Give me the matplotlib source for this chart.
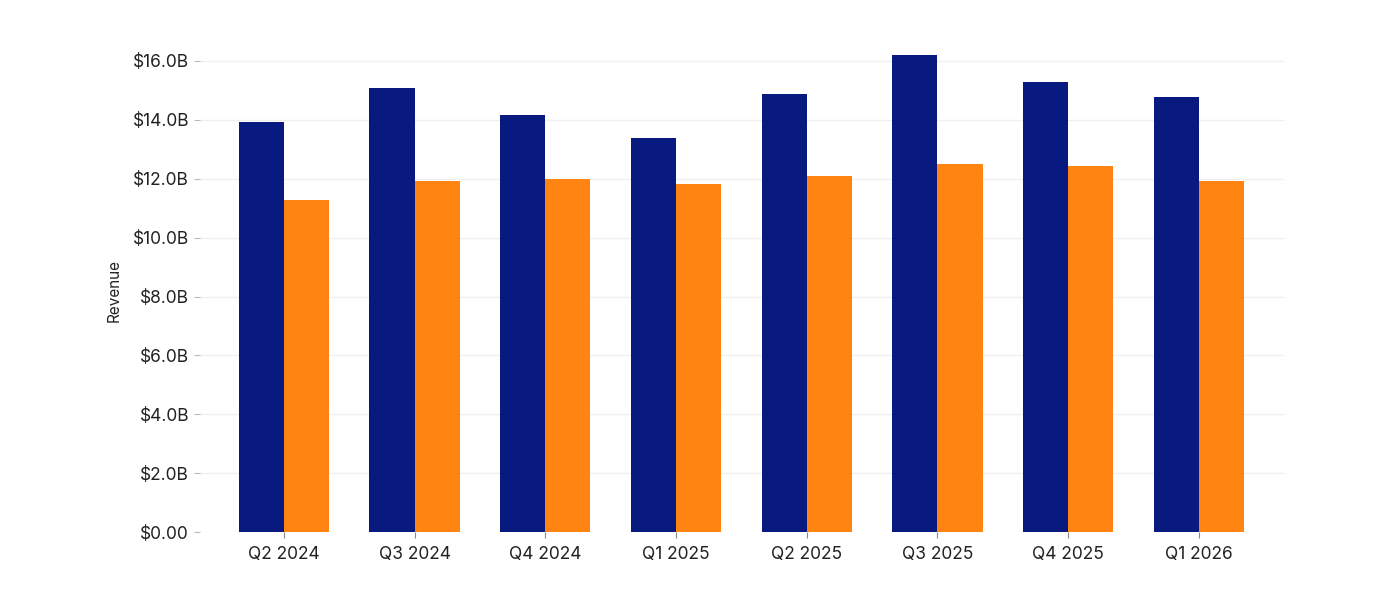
import numpy as np
import matplotlib
matplotlib.use("Agg")
import matplotlib.pyplot as plt

quarters = ["Q2 2024", "Q3 2024", "Q4 2024", "Q1 2025",
            "Q2 2025", "Q3 2025", "Q4 2025", "Q1 2026"]
series_a = [13.92, 15.08, 14.16, 13.38, 14.88, 16.20, 15.29, 14.77]
series_b = [11.27, 11.91, 11.98, 11.81, 12.09, 12.49, 12.43, 11.91]
y_ticks = [0, 2, 4, 6, 8, 10, 12, 14, 16]
y_labels = ["$0.00", "$2.0B", "$4.0B", "$6.0B", "$8.0B",
            "$10.0B", "$12.0B", "$14.0B", "$16.0B"]

plt.rcParams["font.family"] = ["Inter", "DejaVu Sans"]

fig = plt.figure(figsize=(14, 6), dpi=100)
ax = fig.add_axes([0.143, 0.113, 0.774, 0.805])

x = np.arange(len(quarters))
w = 0.345
ax.bar(x - w / 2, series_a, w, color="#08197F", zorder=3)
ax.bar(x + w / 2, series_b, w, color="#FF8412", zorder=3)

ax.set_xlim(-0.64, 7.65)
ax.set_ylim(0, 16.4)
ax.set_xticks(x)
ax.set_xticklabels(quarters, fontsize=12.5, color="#222222")
ax.set_yticks(y_ticks)
ax.set_yticklabels(y_labels, fontsize=12.5, color="#222222")
ax.set_ylabel("Revenue", fontsize=11, color="#222222", labelpad=8)

ax.grid(axis="y", color="#f0f0f0", linewidth=1, zorder=0)
for s in ax.spines.values():
    s.set_visible(False)
ax.tick_params(axis="y", length=4, color="#bbbbbb", pad=4)
ax.tick_params(axis="x", length=4, color="#888888", pad=6)

fig.savefig("out.png", dpi=100, facecolor="white")
